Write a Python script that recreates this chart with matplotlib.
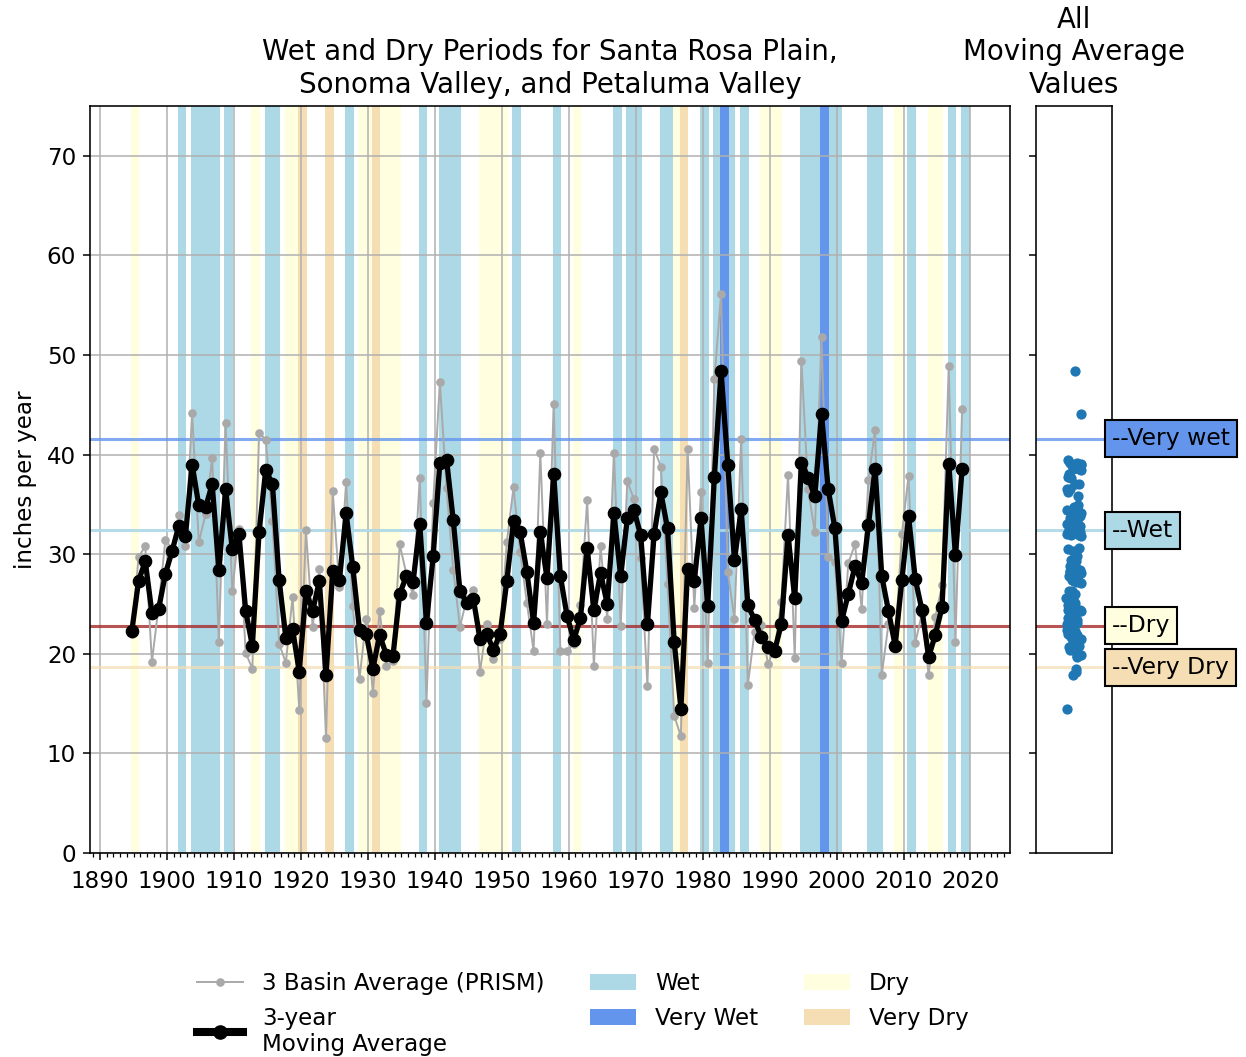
import numpy as np
import matplotlib
matplotlib.use('Agg')
import matplotlib.pyplot as plt
import matplotlib.transforms as mtransforms
from matplotlib.lines import Line2D
from matplotlib.patches import Patch
import seaborn as sns

# ---------------- data ----------------
water_years = np.arange(1895, 2020)

basin_avg = [
    22.0, 29.7, 30.8, 19.2, 24.8, 31.4, 30.6, 33.9, 30.8, 44.2,   # 1895-1904
    31.2, 34.0, 39.7, 21.2, 43.2, 26.3, 32.5, 20.1, 18.5, 42.2,   # 1905-1914
    41.5, 33.3, 21.0, 19.1, 25.7, 14.4, 32.4, 22.7, 28.5, 11.5,   # 1915-1924
    36.3, 26.7, 37.2, 24.8, 17.5, 23.5, 16.1, 24.3, 18.8, 19.3,   # 1925-1934
    31.0, 28.0, 25.9, 37.7, 15.1, 35.1, 47.3, 36.6, 28.4, 22.7,   # 1935-1944
    25.5, 26.4, 18.2, 23.0, 19.5, 21.5, 31.2, 36.7, 30.2, 25.1,   # 1945-1954
    20.3, 40.2, 23.0, 45.1, 20.3, 20.3, 21.0, 24.9, 35.4, 18.8,   # 1955-1964
    30.8, 23.5, 40.2, 22.8, 37.3, 35.5, 29.6, 16.8, 40.6, 38.8,   # 1965-1974
    27.0, 13.8, 11.7, 40.6, 24.6, 36.2, 19.1, 47.6, 56.1, 28.2,   # 1975-1984
    23.5, 41.6, 16.9, 22.2, 22.9, 19.0, 20.5, 25.2, 38.0, 19.6,   # 1985-1994
    49.4, 36.5, 32.2, 51.8, 29.7, 29.2, 19.1, 29.1, 31.0, 24.5,   # 1995-2004
    37.4, 42.5, 17.9, 23.0, 21.0, 32.0, 37.9, 21.1, 24.0, 17.9,   # 2005-2014
    23.7, 26.9, 48.9, 21.2, 44.6,                                 # 2015-2019
]

moving_avg = [
    22.3, 27.3, 29.3, 24.1, 24.5, 28.0, 30.3, 32.8, 31.8, 39.0,   # 1895-1904
    34.9, 34.7, 37.0, 28.4, 36.5, 30.5, 32.0, 24.3, 20.8, 32.2,   # 1905-1914
    38.5, 37.0, 27.4, 21.6, 22.5, 18.2, 26.3, 24.3, 27.3, 17.9,   # 1915-1924
    28.3, 27.4, 34.1, 28.7, 22.4, 22.0, 18.5, 21.9, 19.9, 19.8,   # 1925-1934
    26.0, 27.8, 27.2, 33.0, 23.1, 29.8, 39.2, 39.5, 33.4, 26.3,   # 1935-1944
    25.1, 25.5, 21.5, 22.0, 20.4, 22.0, 27.3, 33.3, 32.2, 28.2,   # 1945-1954
    23.1, 32.2, 27.6, 38.1, 27.8, 23.8, 21.4, 23.6, 30.6, 24.4,   # 1955-1964
    28.1, 25.0, 34.1, 27.8, 33.6, 34.4, 31.9, 23.0, 32.0, 36.2,   # 1965-1974
    32.6, 21.2, 14.5, 28.5, 27.3, 33.6, 24.8, 37.8, 48.4, 39.0,   # 1975-1984
    29.4, 34.5, 24.9, 23.4, 21.7, 20.7, 20.3, 23.0, 31.9, 25.6,   # 1985-1994
    39.2, 37.7, 35.8, 44.1, 36.5, 32.6, 23.3, 26.0, 28.8, 27.1,   # 1995-2004
    32.9, 38.6, 27.8, 24.3, 20.8, 27.4, 33.8, 27.5, 24.4, 19.7,   # 2005-2014
    21.9, 24.7, 39.1, 29.9, 38.6,                                 # 2015-2019
]

threshold_names = ['Very wet', 'Wet', 'Dry', 'Very Dry']
threshold_values = [41.6, 32.4, 22.8, 18.65]
category_names = ['Wet', 'Very Wet', 'Dry', 'Very Dry']
category_colors = ['lightblue', 'cornflowerblue', 'lightyellow', 'wheat']
line_colors = ['cornflowerblue', 'lightblue', 'brown', 'wheat']
line_alphas = [0.8, 0.9, 0.8, 0.7]

FS = 16.6

# ---------------- figure ----------------
plt.rcParams['font.family'] = ['DejaVu Sans']
fig = plt.figure(figsize=(12.46, 10.57), dpi=100)
ax = fig.add_axes([90 / 1246, 1 - 853 / 1057, 920 / 1246, 747 / 1057])
ax2 = fig.add_axes([1036 / 1246, 1 - 853 / 1057, 76 / 1246, 747 / 1057])

ma = np.array(moving_avg)
xpos = water_years - 0.25          # plotted at start of water year (Oct 1)

very_wet = ma > threshold_values[0]
wet = (ma > threshold_values[1]) & ~very_wet
very_dry = ma < threshold_values[3]
dry = (ma < threshold_values[2]) & ~very_dry

masks = {'Wet': wet, 'Dry': dry, 'Very Wet': very_wet, 'Very Dry': very_dry}
colors = dict(zip(category_names, category_colors))
for name in ['Wet', 'Dry', 'Very Wet', 'Very Dry']:
    for x0 in xpos[masks[name]]:
        ax.axvspan(x0 - 0.17, x0 + 1.13, color=colors[name], lw=0, zorder=0.5)

for v, c, a in zip(threshold_values, line_colors, line_alphas):
    ax.axhline(v, color=c, alpha=a, lw=2.2, zorder=1.6)
    ax2.axhline(v, color=c, alpha=a, lw=2.2, zorder=1.6)

ax.plot(xpos, basin_avg, color='darkgray', lw=1.4, marker='o', ms=5.2, zorder=2)
ax.plot(xpos, moving_avg, color='black', lw=3.8, marker='o', ms=8.8, zorder=3)

ax.set_xlim(1888.5, 2025.9)
ax.set_ylim(0, 75)
ax.set_xticks(np.arange(1890, 2021, 10))
ax.set_xticks(np.arange(1889, 2026, 1), minor=True)
ax.set_yticks(np.arange(0, 71, 10))
ax.grid(True, which='major', color='#b0b0b0', lw=1.1, zorder=1.5)
ax.tick_params(axis='both', which='major', labelsize=FS, length=5, width=1.1, pad=5)
ax.tick_params(axis='x', which='major', pad=7.5)
ax.tick_params(axis='x', which='minor', length=2.9, width=0.9)
ax.set_ylabel('inches per year', fontsize=FS, labelpad=7)
ax.set_title('Wet and Dry Periods for Santa Rosa Plain,\nSonoma Valley, and Petaluma Valley',
             fontsize=19.9, pad=9.5)
for s in ax.spines.values():
    s.set_linewidth(1.15)

# ---------------- right panel ----------------
np.random.seed(0)
sns.stripplot(y=ma, ax=ax2, jitter=0.1, size=7.4, color='#1f77b4', zorder=3)
ax2.set_xlim(-0.5, 0.5)
ax2.set_ylim(0, 75)
ax2.set_yticks(np.arange(0, 71, 10))
ax2.set_yticklabels([])
ax2.set_xticks([])
ax2.set_ylabel('')
ax2.tick_params(axis='y', length=5, width=1.1)
ax2.grid(False)
for s in ax2.spines.values():
    s.set_linewidth(1.15)
    s.set_visible(True)
ax2.set_title('All\nMoving Average\nValues', fontsize=19.9, pad=9.5)

trans = mtransforms.blended_transform_factory(ax2.transAxes, ax2.transData)
box_colors = ['cornflowerblue', 'lightblue', 'lightyellow', 'wheat']
for name, v, bc in zip(threshold_names, threshold_values, box_colors):
    ax2.text(1.0, v, '--' + name, transform=trans, ha='left', va='center',
             fontsize=FS + 0.3, zorder=5,
             bbox=dict(boxstyle='square,pad=0.3', facecolor=bc, edgecolor='black', lw=1.5))

# ---------------- legend ----------------
handles = [
    Line2D([], [], color='darkgray', lw=1.4, marker='o', ms=5.2),
    Line2D([], [], color='black', lw=5.8, marker='o', ms=9.5),
    Patch(facecolor=category_colors[0]),
    Patch(facecolor=category_colors[1]),
    Patch(facecolor=category_colors[2]),
    Patch(facecolor=category_colors[3]),
]
labels = ['3 Basin Average (PRISM)', '3-year\nMoving Average', 'Wet', 'Very Wet', 'Dry', 'Very Dry']
fig.legend(handles, labels, ncol=3, frameon=False, fontsize=FS,
           loc='upper left', bbox_to_anchor=(188 / 1246, 1 - 963 / 1057), borderaxespad=0)

fig.savefig('out.png', dpi=100)
